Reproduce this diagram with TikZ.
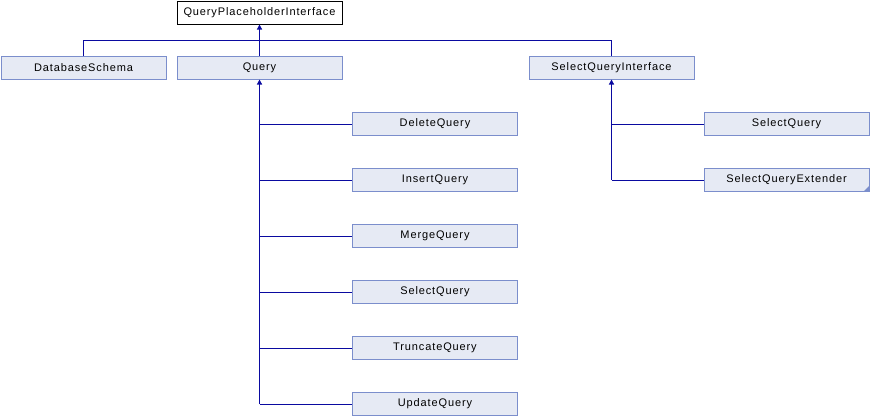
\documentclass[tikz,border=0pt]{standalone}
\usepackage{fontspec}
\setmainfont[LetterSpace=8]{Liberation Sans}
\usetikzlibrary{arrows.meta}
\definecolor{boxfill}{HTML}{E6EAF4}
\definecolor{boxdraw}{HTML}{7B8ECC}
\definecolor{linecol}{HTML}{0A0AA0}
\begin{document}
\begin{tikzpicture}[x=1pt,y=-1pt,
  cls/.style={draw=boxdraw,fill=boxfill,line width=1pt,minimum width=165pt,minimum height=23pt,inner sep=0pt,font=\fontsize{11pt}{13pt}\selectfont,text=black},
  cur/.style={cls,draw=black,fill=white},
  conn/.style={draw=linecol,line width=1.2pt},
  inh/.style={conn,{Triangle[length=5pt,width=5pt]}-}]
\useasboundingbox (0,0) rectangle (870,416);
\node[cur] (qpi) at (259.5,12.5) {QueryPlaceholderInterface};
\node[cls] (ds) at (83.5,67.5) {DatabaseSchema};
\node[cls] (query) at (259.5,67.5) {Query};
\node[cls] (sqi) at (611.5,67.5) {SelectQueryInterface};
\node[cls] (dq) at (435,123.5) {DeleteQuery};
\node[cls] (iq) at (435,179.5) {InsertQuery};
\node[cls] (mq) at (435,235.5) {MergeQuery};
\node[cls] (sq) at (435,291.5) {SelectQuery};
\node[cls] (tq) at (435,347.5) {TruncateQuery};
\node[cls] (uq) at (435,403.5) {UpdateQuery};
\node[cls] (sq2) at (786.5,123.5) {SelectQuery};
\node[cls] (sqe) at (786.5,179.5) {SelectQueryExtender};
\fill[boxdraw] ([xshift=-6pt]sqe.south east) -- (sqe.south east) -- ([yshift=6pt]sqe.south east) -- cycle;
\coordinate (bus) at (259.5,40.5);
\draw[inh] (qpi.south) -- (bus);
\draw[conn] (bus) -- (query.north);
\draw[conn] (ds.north) |- (bus) -- (bus -| sqi.north) -- (sqi.north);
\draw[inh] (query.south) -- (query.south |- uq.west);
\foreach \n in {dq,iq,mq,sq,tq,uq}{\coordinate (\n-in) at ([yshift=-1pt]\n.west); \draw[conn] (query.south |- \n-in) -- (\n-in);}
\draw[inh] (sqi.south) -- (sqi.south |- sqe.west);
\foreach \n in {sq2,sqe}{\coordinate (\n-in) at ([yshift=-1pt]\n.west); \draw[conn] (sqi.south |- \n-in) -- (\n-in);}
\end{tikzpicture}
\end{document}
